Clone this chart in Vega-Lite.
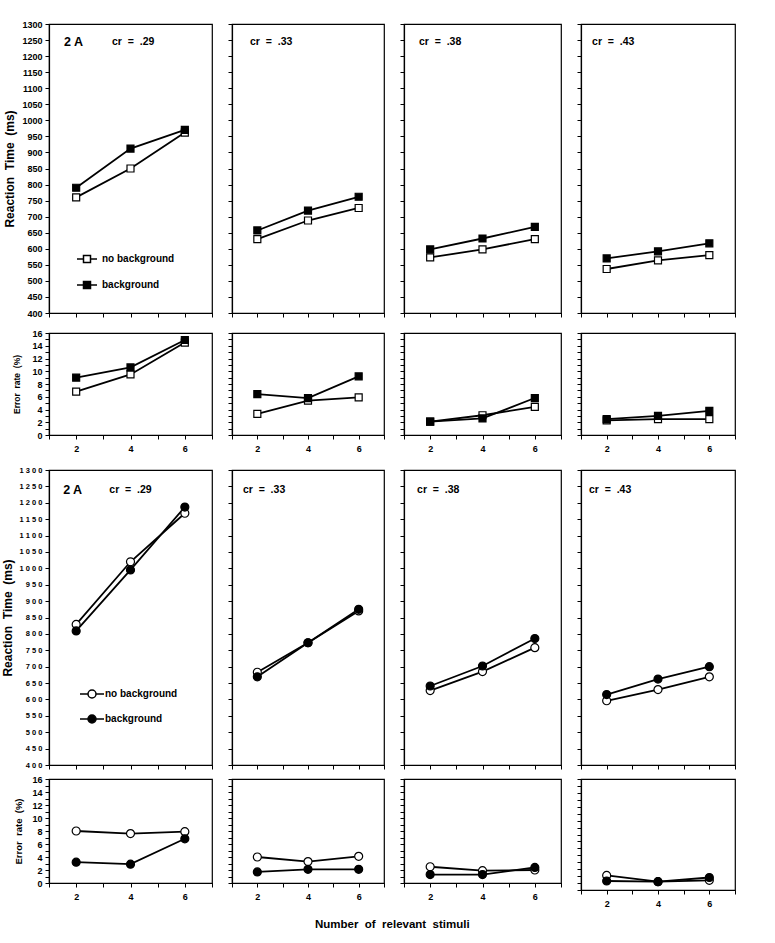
{
  "$schema": "https://vega.github.io/schema/vega-lite/v6.json",
  "background": "white",
  "padding": {"left": 0, "top": 19, "right": 5, "bottom": 5},
  "title": {"text": "Number\u00a0 of\u00a0 relevant\u00a0 stimuli", "orient": "bottom", "anchor": "start", "frame": "group", "dx": 266, "offset": 10, "font": "Liberation Sans", "fontWeight": "bold", "fontSize": 11.5, "color": "black"},
  "datasets": {
    "rt_sq": [
      {"cr": ".29", "cond": "no background", "n": 2, "v": 760},
      {"cr": ".29", "cond": "no background", "n": 4, "v": 850},
      {"cr": ".29", "cond": "no background", "n": 6, "v": 962},
      {"cr": ".29", "cond": "background", "n": 2, "v": 790},
      {"cr": ".29", "cond": "background", "n": 4, "v": 912},
      {"cr": ".29", "cond": "background", "n": 6, "v": 970},
      {"cr": ".33", "cond": "no background", "n": 2, "v": 630},
      {"cr": ".33", "cond": "no background", "n": 4, "v": 688},
      {"cr": ".33", "cond": "no background", "n": 6, "v": 727},
      {"cr": ".33", "cond": "background", "n": 2, "v": 657},
      {"cr": ".33", "cond": "background", "n": 4, "v": 719},
      {"cr": ".33", "cond": "background", "n": 6, "v": 762},
      {"cr": ".38", "cond": "no background", "n": 2, "v": 573},
      {"cr": ".38", "cond": "no background", "n": 4, "v": 598},
      {"cr": ".38", "cond": "no background", "n": 6, "v": 630},
      {"cr": ".38", "cond": "background", "n": 2, "v": 598},
      {"cr": ".38", "cond": "background", "n": 4, "v": 632},
      {"cr": ".38", "cond": "background", "n": 6, "v": 668},
      {"cr": ".43", "cond": "no background", "n": 2, "v": 537},
      {"cr": ".43", "cond": "no background", "n": 4, "v": 564},
      {"cr": ".43", "cond": "no background", "n": 6, "v": 580},
      {"cr": ".43", "cond": "background", "n": 2, "v": 570},
      {"cr": ".43", "cond": "background", "n": 4, "v": 592},
      {"cr": ".43", "cond": "background", "n": 6, "v": 617}
    ],
    "er_sq": [
      {"cr": ".29", "cond": "no background", "n": 2, "v": 6.8},
      {"cr": ".29", "cond": "no background", "n": 4, "v": 9.5},
      {"cr": ".29", "cond": "no background", "n": 6, "v": 14.5},
      {"cr": ".29", "cond": "background", "n": 2, "v": 9.0},
      {"cr": ".29", "cond": "background", "n": 4, "v": 10.6},
      {"cr": ".29", "cond": "background", "n": 6, "v": 14.9},
      {"cr": ".33", "cond": "no background", "n": 2, "v": 3.3},
      {"cr": ".33", "cond": "no background", "n": 4, "v": 5.4},
      {"cr": ".33", "cond": "no background", "n": 6, "v": 5.9},
      {"cr": ".33", "cond": "background", "n": 2, "v": 6.4},
      {"cr": ".33", "cond": "background", "n": 4, "v": 5.8},
      {"cr": ".33", "cond": "background", "n": 6, "v": 9.2},
      {"cr": ".38", "cond": "no background", "n": 2, "v": 2.1},
      {"cr": ".38", "cond": "no background", "n": 4, "v": 3.1},
      {"cr": ".38", "cond": "no background", "n": 6, "v": 4.4},
      {"cr": ".38", "cond": "background", "n": 2, "v": 2.1},
      {"cr": ".38", "cond": "background", "n": 4, "v": 2.6},
      {"cr": ".38", "cond": "background", "n": 6, "v": 5.8},
      {"cr": ".43", "cond": "no background", "n": 2, "v": 2.3},
      {"cr": ".43", "cond": "no background", "n": 4, "v": 2.5},
      {"cr": ".43", "cond": "no background", "n": 6, "v": 2.5},
      {"cr": ".43", "cond": "background", "n": 2, "v": 2.5},
      {"cr": ".43", "cond": "background", "n": 4, "v": 3.0},
      {"cr": ".43", "cond": "background", "n": 6, "v": 3.8}
    ],
    "rt_ci": [
      {"cr": ".29", "cond": "no background", "n": 2, "v": 829},
      {"cr": ".29", "cond": "no background", "n": 4, "v": 1020},
      {"cr": ".29", "cond": "no background", "n": 6, "v": 1168},
      {"cr": ".29", "cond": "background", "n": 2, "v": 809},
      {"cr": ".29", "cond": "background", "n": 4, "v": 995},
      {"cr": ".29", "cond": "background", "n": 6, "v": 1187},
      {"cr": ".33", "cond": "no background", "n": 2, "v": 683},
      {"cr": ".33", "cond": "no background", "n": 4, "v": 773},
      {"cr": ".33", "cond": "no background", "n": 6, "v": 870},
      {"cr": ".33", "cond": "background", "n": 2, "v": 669},
      {"cr": ".33", "cond": "background", "n": 4, "v": 773},
      {"cr": ".33", "cond": "background", "n": 6, "v": 875},
      {"cr": ".38", "cond": "no background", "n": 2, "v": 627},
      {"cr": ".38", "cond": "no background", "n": 4, "v": 685},
      {"cr": ".38", "cond": "no background", "n": 6, "v": 758},
      {"cr": ".38", "cond": "background", "n": 2, "v": 641},
      {"cr": ".38", "cond": "background", "n": 4, "v": 702},
      {"cr": ".38", "cond": "background", "n": 6, "v": 786},
      {"cr": ".43", "cond": "no background", "n": 2, "v": 596},
      {"cr": ".43", "cond": "no background", "n": 4, "v": 630},
      {"cr": ".43", "cond": "no background", "n": 6, "v": 669},
      {"cr": ".43", "cond": "background", "n": 2, "v": 615},
      {"cr": ".43", "cond": "background", "n": 4, "v": 662},
      {"cr": ".43", "cond": "background", "n": 6, "v": 700}
    ],
    "er_ci": [
      {"cr": ".29", "cond": "no background", "n": 2, "v": 8.0},
      {"cr": ".29", "cond": "no background", "n": 4, "v": 7.6},
      {"cr": ".29", "cond": "no background", "n": 6, "v": 7.9},
      {"cr": ".29", "cond": "background", "n": 2, "v": 3.2},
      {"cr": ".29", "cond": "background", "n": 4, "v": 2.9},
      {"cr": ".29", "cond": "background", "n": 6, "v": 6.8},
      {"cr": ".33", "cond": "no background", "n": 2, "v": 4.0},
      {"cr": ".33", "cond": "no background", "n": 4, "v": 3.3},
      {"cr": ".33", "cond": "no background", "n": 6, "v": 4.1},
      {"cr": ".33", "cond": "background", "n": 2, "v": 1.7},
      {"cr": ".33", "cond": "background", "n": 4, "v": 2.1},
      {"cr": ".33", "cond": "background", "n": 6, "v": 2.1},
      {"cr": ".38", "cond": "no background", "n": 2, "v": 2.5},
      {"cr": ".38", "cond": "no background", "n": 4, "v": 1.9},
      {"cr": ".38", "cond": "no background", "n": 6, "v": 2.0},
      {"cr": ".38", "cond": "background", "n": 2, "v": 1.3},
      {"cr": ".38", "cond": "background", "n": 4, "v": 1.3},
      {"cr": ".38", "cond": "background", "n": 6, "v": 2.4},
      {"cr": ".43", "cond": "no background", "n": 2, "v": 2.1},
      {"cr": ".43", "cond": "no background", "n": 4, "v": 1.2},
      {"cr": ".43", "cond": "no background", "n": 6, "v": 1.4},
      {"cr": ".43", "cond": "background", "n": 2, "v": 1.3},
      {"cr": ".43", "cond": "background", "n": 4, "v": 1.2},
      {"cr": ".43", "cond": "background", "n": 6, "v": 1.8}
    ]
  },
  "resolve": {"scale": {"fill": "independent"}, "legend": {"fill": "independent"}},
  "spacing": 11,
  "vconcat": [
    {
      "resolve": {"scale": {"fill": "independent"}, "legend": {"fill": "independent"}},
      "spacing": 9,
      "vconcat": [
        {
          "resolve": {"scale": {"fill": "independent"}, "legend": {"fill": "independent"}},
          "spacing": 12,
          "hconcat": [
            {
              "width": 163, "height": 289,
              "data": {"name": "rt_sq"},
              "transform": [{"filter": "datum.cr == '.29'"}],
              "encoding": {
                "x": {"field": "n", "type": "quantitative", "scale": {"domain": [1, 7], "nice": false, "zero": false}, "axis": {"values": [1, 2, 3, 4, 5, 6, 7], "labels": false, "title": null}},
                "y": {"field": "v", "type": "quantitative", "scale": {"domain": [400, 1300], "nice": false, "zero": false}, "axis": {"values": [400, 450, 500, 550, 600, 650, 700, 750, 800, 850, 900, 950, 1000, 1050, 1100, 1150, 1200, 1250, 1300], "format": "d", "title": "Reaction\u00a0 Time\u00a0 (ms)", "titleFontSize": 12, "titlePadding": 5}}
              },
              "layer": [
                {"mark": {"type": "line", "color": "black", "strokeWidth": 1.8}, "encoding": {"detail": {"field": "cond"}}},
                {"mark": {"type": "point", "shape": "square", "size": 49, "stroke": "black", "strokeWidth": 1.2, "opacity": 1},
                 "encoding": {"fill": {"field": "cond", "type": "nominal", "scale": {"domain": ["no background", "background"], "range": ["white", "black"]},
                   "legend": {"orient": "none", "legendX": 27, "legendY": 230, "title": null, "padding": 0, "rowPadding": 12, "symbolType": "M-2.86,0H-1M1,0H2.86M-1,-1H1V1H-1Z", "symbolSize": 49, "symbolStrokeColor": "black", "symbolStrokeWidth": 1.5, "symbolOffset": 6, "labelOffset": 10, "labelFont": "Liberation Sans", "labelFontWeight": "bold", "labelFontSize": 10, "labelColor": "black"}}}},
                {"transform": [{"filter": "datum.n == 2 && datum.cond == 'background'"}],
                 "mark": {"type": "text", "align": "left", "baseline": "middle", "font": "Liberation Sans", "fontWeight": "bold", "fontSize": 12.5, "color": "black"},
                 "encoding": {"x": {"datum": 1.55, "type": "quantitative"}, "y": {"datum": 1244, "type": "quantitative"}, "text": {"value": "2 A"}}},
                {"transform": [{"filter": "datum.n == 2 && datum.cond == 'background'"}],
                 "mark": {"type": "text", "align": "left", "baseline": "middle", "font": "Liberation Sans", "fontWeight": "bold", "fontSize": 10.5, "color": "black"},
                 "encoding": {"x": {"datum": 3.32, "type": "quantitative"}, "y": {"datum": 1244, "type": "quantitative"}, "text": {"value": "cr\u00a0 =\u00a0 .29"}}}
              ]
            },
            {
              "width": 152, "height": 289,
              "data": {"name": "rt_sq"},
              "transform": [{"filter": "datum.cr == '.33'"}],
              "encoding": {
                "x": {"field": "n", "type": "quantitative", "scale": {"domain": [1, 7], "nice": false, "zero": false}, "axis": {"values": [1, 2, 3, 4, 5, 6, 7], "labels": false, "title": null}},
                "y": {"field": "v", "type": "quantitative", "scale": {"domain": [400, 1300], "nice": false, "zero": false}, "axis": {"values": [400, 450, 500, 550, 600, 650, 700, 750, 800, 850, 900, 950, 1000, 1050, 1100, 1150, 1200, 1250, 1300], "labels": false, "title": null}}
              },
              "layer": [
                {"mark": {"type": "line", "color": "black", "strokeWidth": 1.8}, "encoding": {"detail": {"field": "cond"}}},
                {"mark": {"type": "point", "shape": "square", "size": 49, "stroke": "black", "strokeWidth": 1.2, "opacity": 1},
                 "encoding": {"fill": {"field": "cond", "type": "nominal", "scale": {"domain": ["no background", "background"], "range": ["white", "black"]}, "legend": null}}},
                {"transform": [{"filter": "datum.n == 2 && datum.cond == 'background'"}],
                 "mark": {"type": "text", "align": "left", "baseline": "middle", "font": "Liberation Sans", "fontWeight": "bold", "fontSize": 10.5, "color": "black"},
                 "encoding": {"x": {"datum": 1.71, "type": "quantitative"}, "y": {"datum": 1244, "type": "quantitative"}, "text": {"value": "cr\u00a0 =\u00a0 .33"}}}
              ]
            },
            {
              "width": 157, "height": 289,
              "data": {"name": "rt_sq"},
              "transform": [{"filter": "datum.cr == '.38'"}],
              "encoding": {
                "x": {"field": "n", "type": "quantitative", "scale": {"domain": [1, 7], "nice": false, "zero": false}, "axis": {"values": [1, 2, 3, 4, 5, 6, 7], "labels": false, "title": null}},
                "y": {"field": "v", "type": "quantitative", "scale": {"domain": [400, 1300], "nice": false, "zero": false}, "axis": {"values": [400, 450, 500, 550, 600, 650, 700, 750, 800, 850, 900, 950, 1000, 1050, 1100, 1150, 1200, 1250, 1300], "labels": false, "title": null}}
              },
              "layer": [
                {"mark": {"type": "line", "color": "black", "strokeWidth": 1.8}, "encoding": {"detail": {"field": "cond"}}},
                {"mark": {"type": "point", "shape": "square", "size": 49, "stroke": "black", "strokeWidth": 1.2, "opacity": 1},
                 "encoding": {"fill": {"field": "cond", "type": "nominal", "scale": {"domain": ["no background", "background"], "range": ["white", "black"]}, "legend": null}}},
                {"transform": [{"filter": "datum.n == 2 && datum.cond == 'background'"}],
                 "mark": {"type": "text", "align": "left", "baseline": "middle", "font": "Liberation Sans", "fontWeight": "bold", "fontSize": 10.5, "color": "black"},
                 "encoding": {"x": {"datum": 1.57, "type": "quantitative"}, "y": {"datum": 1244, "type": "quantitative"}, "text": {"value": "cr\u00a0 =\u00a0 .38"}}}
              ]
            },
            {
              "width": 154, "height": 289,
              "data": {"name": "rt_sq"},
              "transform": [{"filter": "datum.cr == '.43'"}],
              "encoding": {
                "x": {"field": "n", "type": "quantitative", "scale": {"domain": [1, 7], "nice": false, "zero": false}, "axis": {"values": [1, 2, 3, 4, 5, 6, 7], "labels": false, "title": null}},
                "y": {"field": "v", "type": "quantitative", "scale": {"domain": [400, 1300], "nice": false, "zero": false}, "axis": {"values": [400, 450, 500, 550, 600, 650, 700, 750, 800, 850, 900, 950, 1000, 1050, 1100, 1150, 1200, 1250, 1300], "labels": false, "title": null}}
              },
              "layer": [
                {"mark": {"type": "line", "color": "black", "strokeWidth": 1.8}, "encoding": {"detail": {"field": "cond"}}},
                {"mark": {"type": "point", "shape": "square", "size": 49, "stroke": "black", "strokeWidth": 1.2, "opacity": 1},
                 "encoding": {"fill": {"field": "cond", "type": "nominal", "scale": {"domain": ["no background", "background"], "range": ["white", "black"]}, "legend": null}}},
                {"transform": [{"filter": "datum.n == 2 && datum.cond == 'background'"}],
                 "mark": {"type": "text", "align": "left", "baseline": "middle", "font": "Liberation Sans", "fontWeight": "bold", "fontSize": 10.5, "color": "black"},
                 "encoding": {"x": {"datum": 1.43, "type": "quantitative"}, "y": {"datum": 1244, "type": "quantitative"}, "text": {"value": "cr\u00a0 =\u00a0 .43"}}}
              ]
            }
          ]
        },
        {
          "resolve": {"scale": {"fill": "independent"}, "legend": {"fill": "independent"}},
          "spacing": 12,
          "hconcat": [
            {
              "width": 163, "height": 102,
              "data": {"name": "er_sq"},
              "transform": [{"filter": "datum.cr == '.29'"}],
              "encoding": {
                "x": {"field": "n", "type": "quantitative", "scale": {"domain": [1, 7], "nice": false, "zero": false}, "axis": {"values": [1, 2, 3, 4, 5, 6, 7], "format": "d", "labelExpr": "datum.value % 2 == 0 ? datum.label : ''", "labelPadding": 5, "title": null}},
                "y": {"field": "v", "type": "quantitative", "scale": {"domain": [0, 16], "nice": false, "zero": false}, "axis": {"values": [0, 1, 2, 3, 4, 5, 6, 7, 8, 9, 10, 11, 12, 13, 14, 15, 16], "format": "d", "labelExpr": "datum.value % 2 == 0 ? datum.label : ''", "title": "Error\u00a0 rate\u00a0 (%)", "titleFontSize": 8.5, "titlePadding": 10}}
              },
              "layer": [
                {"mark": {"type": "line", "color": "black", "strokeWidth": 1.8}, "encoding": {"detail": {"field": "cond"}}},
                {"mark": {"type": "point", "shape": "square", "size": 49, "stroke": "black", "strokeWidth": 1.2, "opacity": 1},
                 "encoding": {"fill": {"field": "cond", "type": "nominal", "scale": {"domain": ["no background", "background"], "range": ["white", "black"]}, "legend": null}}}
              ]
            },
            {
              "width": 152, "height": 102,
              "data": {"name": "er_sq"},
              "transform": [{"filter": "datum.cr == '.33'"}],
              "encoding": {
                "x": {"field": "n", "type": "quantitative", "scale": {"domain": [1, 7], "nice": false, "zero": false}, "axis": {"values": [1, 2, 3, 4, 5, 6, 7], "format": "d", "labelExpr": "datum.value % 2 == 0 ? datum.label : ''", "labelPadding": 5, "title": null}},
                "y": {"field": "v", "type": "quantitative", "scale": {"domain": [0, 16], "nice": false, "zero": false}, "axis": {"values": [0, 1, 2, 3, 4, 5, 6, 7, 8, 9, 10, 11, 12, 13, 14, 15, 16], "labels": false, "title": null}}
              },
              "layer": [
                {"mark": {"type": "line", "color": "black", "strokeWidth": 1.8}, "encoding": {"detail": {"field": "cond"}}},
                {"mark": {"type": "point", "shape": "square", "size": 49, "stroke": "black", "strokeWidth": 1.2, "opacity": 1},
                 "encoding": {"fill": {"field": "cond", "type": "nominal", "scale": {"domain": ["no background", "background"], "range": ["white", "black"]}, "legend": null}}}
              ]
            },
            {
              "width": 157, "height": 102,
              "data": {"name": "er_sq"},
              "transform": [{"filter": "datum.cr == '.38'"}],
              "encoding": {
                "x": {"field": "n", "type": "quantitative", "scale": {"domain": [1, 7], "nice": false, "zero": false}, "axis": {"values": [1, 2, 3, 4, 5, 6, 7], "format": "d", "labelExpr": "datum.value % 2 == 0 ? datum.label : ''", "labelPadding": 5, "title": null}},
                "y": {"field": "v", "type": "quantitative", "scale": {"domain": [0, 16], "nice": false, "zero": false}, "axis": {"values": [0, 1, 2, 3, 4, 5, 6, 7, 8, 9, 10, 11, 12, 13, 14, 15, 16], "labels": false, "title": null}}
              },
              "layer": [
                {"mark": {"type": "line", "color": "black", "strokeWidth": 1.8}, "encoding": {"detail": {"field": "cond"}}},
                {"mark": {"type": "point", "shape": "square", "size": 49, "stroke": "black", "strokeWidth": 1.2, "opacity": 1},
                 "encoding": {"fill": {"field": "cond", "type": "nominal", "scale": {"domain": ["no background", "background"], "range": ["white", "black"]}, "legend": null}}}
              ]
            },
            {
              "width": 154, "height": 102,
              "data": {"name": "er_sq"},
              "transform": [{"filter": "datum.cr == '.43'"}],
              "encoding": {
                "x": {"field": "n", "type": "quantitative", "scale": {"domain": [1, 7], "nice": false, "zero": false}, "axis": {"values": [1, 2, 3, 4, 5, 6, 7], "format": "d", "labelExpr": "datum.value % 2 == 0 ? datum.label : ''", "labelPadding": 5, "title": null}},
                "y": {"field": "v", "type": "quantitative", "scale": {"domain": [0, 16], "nice": false, "zero": false}, "axis": {"values": [0, 1, 2, 3, 4, 5, 6, 7, 8, 9, 10, 11, 12, 13, 14, 15, 16], "labels": false, "title": null}}
              },
              "layer": [
                {"mark": {"type": "line", "color": "black", "strokeWidth": 1.8}, "encoding": {"detail": {"field": "cond"}}},
                {"mark": {"type": "point", "shape": "square", "size": 49, "stroke": "black", "strokeWidth": 1.2, "opacity": 1},
                 "encoding": {"fill": {"field": "cond", "type": "nominal", "scale": {"domain": ["no background", "background"], "range": ["white", "black"]}, "legend": null}}}
              ]
            }
          ]
        }
      ]
    },
    {
      "resolve": {"scale": {"fill": "independent"}, "legend": {"fill": "independent"}},
      "spacing": 3,
      "vconcat": [
        {
          "resolve": {"scale": {"fill": "independent"}, "legend": {"fill": "independent"}},
          "spacing": 12,
          "hconcat": [
            {
              "width": 163, "height": 295,
              "data": {"name": "rt_ci"},
              "transform": [{"filter": "datum.cr == '.29'"}],
              "encoding": {
                "x": {"field": "n", "type": "quantitative", "scale": {"domain": [1, 7], "nice": false, "zero": false}, "axis": {"values": [1, 2, 3, 4, 5, 6, 7], "labels": false, "title": null}},
                "y": {"field": "v", "type": "quantitative", "scale": {"domain": [400, 1300], "nice": false, "zero": false}, "axis": {"values": [400, 450, 500, 550, 600, 650, 700, 750, 800, 850, 900, 950, 1000, 1050, 1100, 1150, 1200, 1250, 1300], "format": "d", "labelExpr": "join(split(datum.label, ''), ' ')", "labelFontSize": 7.5, "title": "Reaction\u00a0 Time\u00a0 (ms)", "titleFontSize": 12, "titlePadding": 5}}
              },
              "layer": [
                {"mark": {"type": "line", "color": "black", "strokeWidth": 1.8}, "encoding": {"detail": {"field": "cond"}}},
                {"mark": {"type": "point", "shape": "circle", "size": 64, "stroke": "black", "strokeWidth": 1.2, "opacity": 1},
                 "encoding": {"fill": {"field": "cond", "type": "nominal", "scale": {"domain": ["no background", "background"], "range": ["white", "black"]},
                   "legend": {"orient": "none", "legendX": 31, "legendY": 219, "title": null, "padding": 0, "rowPadding": 11, "symbolType": "M-3,0H-1M1,0H3M1,0A1,1,0,1,1,-1,0A1,1,0,1,1,1,0Z", "symbolSize": 64, "symbolStrokeColor": "black", "symbolStrokeWidth": 1.5, "symbolOffset": 7, "labelOffset": 8, "labelFont": "Liberation Sans", "labelFontWeight": "bold", "labelFontSize": 10, "labelColor": "black"}}}},
                {"transform": [{"filter": "datum.n == 2 && datum.cond == 'background'"}],
                 "mark": {"type": "text", "align": "left", "baseline": "middle", "font": "Liberation Sans", "fontWeight": "bold", "fontSize": 12.5, "color": "black"},
                 "encoding": {"x": {"datum": 1.52, "type": "quantitative"}, "y": {"datum": 1239, "type": "quantitative"}, "text": {"value": "2 A"}}},
                {"transform": [{"filter": "datum.n == 2 && datum.cond == 'background'"}],
                 "mark": {"type": "text", "align": "left", "baseline": "middle", "font": "Liberation Sans", "fontWeight": "bold", "fontSize": 10.5, "color": "black"},
                 "encoding": {"x": {"datum": 3.22, "type": "quantitative"}, "y": {"datum": 1239, "type": "quantitative"}, "text": {"value": "cr\u00a0 =\u00a0 .29"}}}
              ]
            },
            {
              "width": 152, "height": 295,
              "data": {"name": "rt_ci"},
              "transform": [{"filter": "datum.cr == '.33'"}],
              "encoding": {
                "x": {"field": "n", "type": "quantitative", "scale": {"domain": [1, 7], "nice": false, "zero": false}, "axis": {"values": [1, 2, 3, 4, 5, 6, 7], "labels": false, "title": null}},
                "y": {"field": "v", "type": "quantitative", "scale": {"domain": [400, 1300], "nice": false, "zero": false}, "axis": {"values": [400, 450, 500, 550, 600, 650, 700, 750, 800, 850, 900, 950, 1000, 1050, 1100, 1150, 1200, 1250, 1300], "labels": false, "title": null}}
              },
              "layer": [
                {"mark": {"type": "line", "color": "black", "strokeWidth": 1.8}, "encoding": {"detail": {"field": "cond"}}},
                {"mark": {"type": "point", "shape": "circle", "size": 64, "stroke": "black", "strokeWidth": 1.2, "opacity": 1},
                 "encoding": {"fill": {"field": "cond", "type": "nominal", "scale": {"domain": ["no background", "background"], "range": ["white", "black"]}, "legend": null}}},
                {"transform": [{"filter": "datum.n == 2 && datum.cond == 'background'"}],
                 "mark": {"type": "text", "align": "left", "baseline": "middle", "font": "Liberation Sans", "fontWeight": "bold", "fontSize": 10.5, "color": "black"},
                 "encoding": {"x": {"datum": 1.43, "type": "quantitative"}, "y": {"datum": 1239, "type": "quantitative"}, "text": {"value": "cr\u00a0 =\u00a0 .33"}}}
              ]
            },
            {
              "width": 157, "height": 295,
              "data": {"name": "rt_ci"},
              "transform": [{"filter": "datum.cr == '.38'"}],
              "encoding": {
                "x": {"field": "n", "type": "quantitative", "scale": {"domain": [1, 7], "nice": false, "zero": false}, "axis": {"values": [1, 2, 3, 4, 5, 6, 7], "labels": false, "title": null}},
                "y": {"field": "v", "type": "quantitative", "scale": {"domain": [400, 1300], "nice": false, "zero": false}, "axis": {"values": [400, 450, 500, 550, 600, 650, 700, 750, 800, 850, 900, 950, 1000, 1050, 1100, 1150, 1200, 1250, 1300], "labels": false, "title": null}}
              },
              "layer": [
                {"mark": {"type": "line", "color": "black", "strokeWidth": 1.8}, "encoding": {"detail": {"field": "cond"}}},
                {"mark": {"type": "point", "shape": "circle", "size": 64, "stroke": "black", "strokeWidth": 1.2, "opacity": 1},
                 "encoding": {"fill": {"field": "cond", "type": "nominal", "scale": {"domain": ["no background", "background"], "range": ["white", "black"]}, "legend": null}}},
                {"transform": [{"filter": "datum.n == 2 && datum.cond == 'background'"}],
                 "mark": {"type": "text", "align": "left", "baseline": "middle", "font": "Liberation Sans", "fontWeight": "bold", "fontSize": 10.5, "color": "black"},
                 "encoding": {"x": {"datum": 1.5, "type": "quantitative"}, "y": {"datum": 1239, "type": "quantitative"}, "text": {"value": "cr\u00a0 =\u00a0 .38"}}}
              ]
            },
            {
              "width": 154, "height": 295,
              "data": {"name": "rt_ci"},
              "transform": [{"filter": "datum.cr == '.43'"}],
              "encoding": {
                "x": {"field": "n", "type": "quantitative", "scale": {"domain": [1, 7], "nice": false, "zero": false}, "axis": {"values": [1, 2, 3, 4, 5, 6, 7], "labels": false, "title": null}},
                "y": {"field": "v", "type": "quantitative", "scale": {"domain": [400, 1300], "nice": false, "zero": false}, "axis": {"values": [400, 450, 500, 550, 600, 650, 700, 750, 800, 850, 900, 950, 1000, 1050, 1100, 1150, 1200, 1250, 1300], "labels": false, "title": null}}
              },
              "layer": [
                {"mark": {"type": "line", "color": "black", "strokeWidth": 1.8}, "encoding": {"detail": {"field": "cond"}}},
                {"mark": {"type": "point", "shape": "circle", "size": 64, "stroke": "black", "strokeWidth": 1.2, "opacity": 1},
                 "encoding": {"fill": {"field": "cond", "type": "nominal", "scale": {"domain": ["no background", "background"], "range": ["white", "black"]}, "legend": null}}},
                {"transform": [{"filter": "datum.n == 2 && datum.cond == 'background'"}],
                 "mark": {"type": "text", "align": "left", "baseline": "middle", "font": "Liberation Sans", "fontWeight": "bold", "fontSize": 10.5, "color": "black"},
                 "encoding": {"x": {"datum": 1.31, "type": "quantitative"}, "y": {"datum": 1239, "type": "quantitative"}, "text": {"value": "cr\u00a0 =\u00a0 .43"}}}
              ]
            }
          ]
        },
        {
          "resolve": {"scale": {"fill": "independent"}, "legend": {"fill": "independent"}},
          "spacing": 12,
          "hconcat": [
            {
              "width": 163, "height": 104,
              "data": {"name": "er_ci"},
              "transform": [{"filter": "datum.cr == '.29'"}],
              "encoding": {
                "x": {"field": "n", "type": "quantitative", "scale": {"domain": [1, 7], "nice": false, "zero": false}, "axis": {"values": [1, 2, 3, 4, 5, 6, 7], "format": "d", "labelExpr": "datum.value % 2 == 0 ? datum.label : ''", "labelPadding": 5, "title": null}},
                "y": {"field": "v", "type": "quantitative", "scale": {"domain": [0, 16], "nice": false, "zero": false}, "axis": {"values": [0, 1, 2, 3, 4, 5, 6, 7, 8, 9, 10, 11, 12, 13, 14, 15, 16], "format": "d", "labelExpr": "datum.value % 2 == 0 ? datum.label : ''", "title": "Error\u00a0 rate\u00a0 (%)", "titleFontSize": 9.5, "titlePadding": 8}}
              },
              "layer": [
                {"mark": {"type": "line", "color": "black", "strokeWidth": 1.8}, "encoding": {"detail": {"field": "cond"}}},
                {"mark": {"type": "point", "shape": "circle", "size": 64, "stroke": "black", "strokeWidth": 1.2, "opacity": 1},
                 "encoding": {"fill": {"field": "cond", "type": "nominal", "scale": {"domain": ["no background", "background"], "range": ["white", "black"]}, "legend": null}}}
              ]
            },
            {
              "width": 152, "height": 104,
              "data": {"name": "er_ci"},
              "transform": [{"filter": "datum.cr == '.33'"}],
              "encoding": {
                "x": {"field": "n", "type": "quantitative", "scale": {"domain": [1, 7], "nice": false, "zero": false}, "axis": {"values": [1, 2, 3, 4, 5, 6, 7], "format": "d", "labelExpr": "datum.value % 2 == 0 ? datum.label : ''", "labelPadding": 5, "title": null}},
                "y": {"field": "v", "type": "quantitative", "scale": {"domain": [0, 16], "nice": false, "zero": false}, "axis": {"values": [0, 1, 2, 3, 4, 5, 6, 7, 8, 9, 10, 11, 12, 13, 14, 15, 16], "labels": false, "title": null}}
              },
              "layer": [
                {"mark": {"type": "line", "color": "black", "strokeWidth": 1.8}, "encoding": {"detail": {"field": "cond"}}},
                {"mark": {"type": "point", "shape": "circle", "size": 64, "stroke": "black", "strokeWidth": 1.2, "opacity": 1},
                 "encoding": {"fill": {"field": "cond", "type": "nominal", "scale": {"domain": ["no background", "background"], "range": ["white", "black"]}, "legend": null}}}
              ]
            },
            {
              "width": 157, "height": 104,
              "data": {"name": "er_ci"},
              "transform": [{"filter": "datum.cr == '.38'"}],
              "encoding": {
                "x": {"field": "n", "type": "quantitative", "scale": {"domain": [1, 7], "nice": false, "zero": false}, "axis": {"values": [1, 2, 3, 4, 5, 6, 7], "format": "d", "labelExpr": "datum.value % 2 == 0 ? datum.label : ''", "labelPadding": 5, "title": null}},
                "y": {"field": "v", "type": "quantitative", "scale": {"domain": [0, 16], "nice": false, "zero": false}, "axis": {"values": [0, 1, 2, 3, 4, 5, 6, 7, 8, 9, 10, 11, 12, 13, 14, 15, 16], "labels": false, "title": null}}
              },
              "layer": [
                {"mark": {"type": "line", "color": "black", "strokeWidth": 1.8}, "encoding": {"detail": {"field": "cond"}}},
                {"mark": {"type": "point", "shape": "circle", "size": 64, "stroke": "black", "strokeWidth": 1.2, "opacity": 1},
                 "encoding": {"fill": {"field": "cond", "type": "nominal", "scale": {"domain": ["no background", "background"], "range": ["white", "black"]}, "legend": null}}}
              ]
            },
            {
              "width": 154, "height": 111,
              "data": {"name": "er_ci"},
              "transform": [{"filter": "datum.cr == '.43'"}],
              "encoding": {
                "x": {"field": "n", "type": "quantitative", "scale": {"domain": [1, 7], "nice": false, "zero": false}, "axis": {"values": [1, 2, 3, 4, 5, 6, 7], "format": "d", "labelExpr": "datum.value % 2 == 0 ? datum.label : ''", "labelPadding": 5, "title": null}},
                "y": {"field": "v", "type": "quantitative", "scale": {"domain": [0, 16], "nice": false, "zero": false}, "axis": {"values": [0, 1, 2, 3, 4, 5, 6, 7, 8, 9, 10, 11, 12, 13, 14, 15, 16], "labels": false, "title": null}}
              },
              "layer": [
                {"mark": {"type": "line", "color": "black", "strokeWidth": 1.8}, "encoding": {"detail": {"field": "cond"}}},
                {"mark": {"type": "point", "shape": "circle", "size": 64, "stroke": "black", "strokeWidth": 1.2, "opacity": 1},
                 "encoding": {"fill": {"field": "cond", "type": "nominal", "scale": {"domain": ["no background", "background"], "range": ["white", "black"]}, "legend": null}}}
              ]
            }
          ]
        }
      ]
    }
  ],
  "config": {
    "font": "Liberation Sans",
    "view": {"stroke": "black", "strokeWidth": 1.2},
    "axis": {
      "domainColor": "black", "domainWidth": 1.2,
      "tickColor": "black", "tickWidth": 1, "tickSize": 4,
      "labelFont": "Liberation Sans", "labelFontWeight": "bold", "labelFontSize": 9, "labelColor": "black", "labelPadding": 3,
      "labelOverlap": false, "labelFlush": false,
      "titleFont": "Liberation Sans", "titleFontWeight": "bold", "titleColor": "black",
      "grid": false
    }
  }
}
